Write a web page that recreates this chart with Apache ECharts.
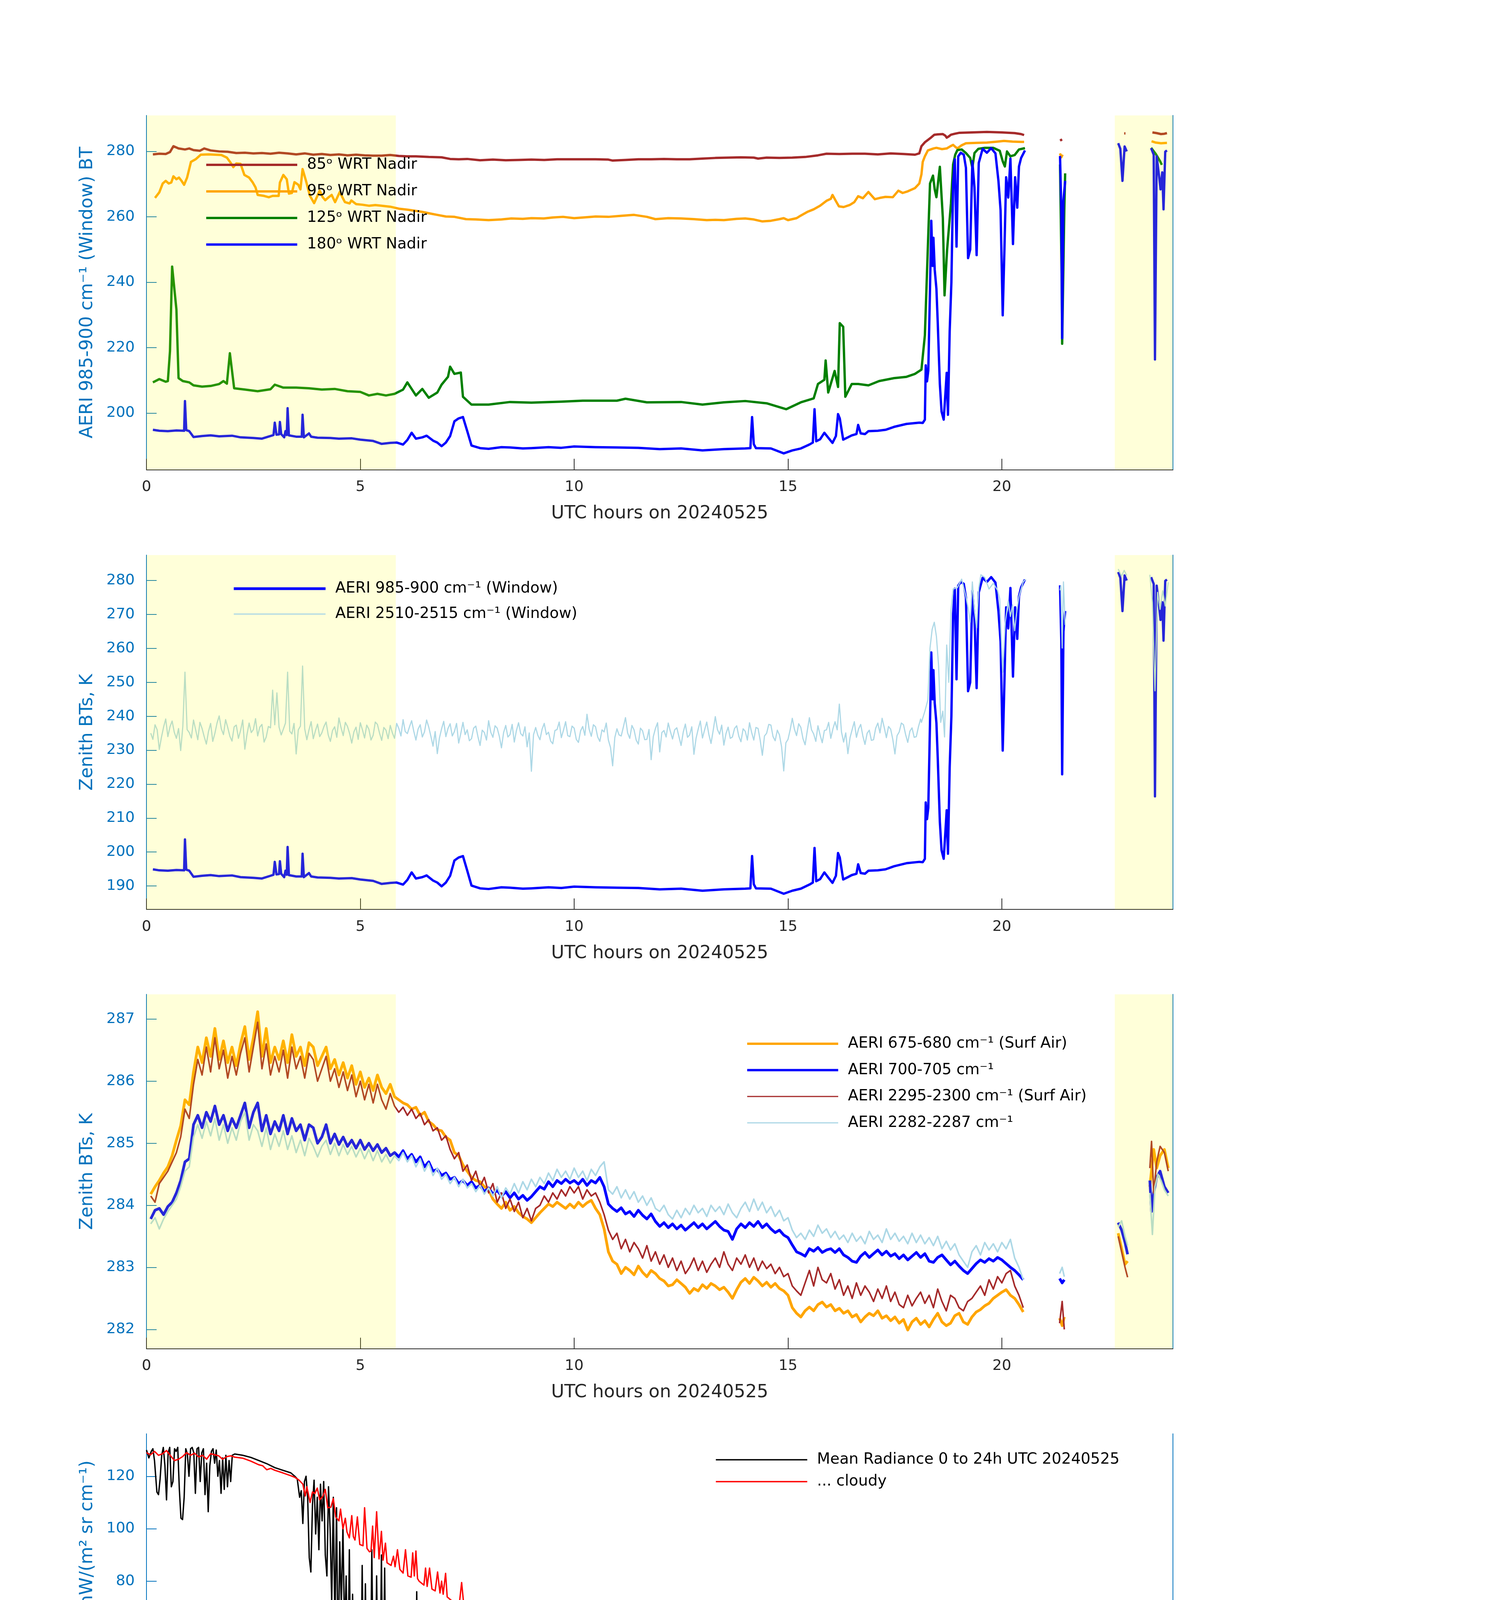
<!DOCTYPE html>
<html><head><meta charset="utf-8">
<script src="https://cdn.jsdelivr.net/npm/echarts@6/dist/echarts.min.js"></script>
<style>html,body{margin:0;padding:0;background:#fff}#c{width:3825px;height:6000px}</style>
</head><body><div id="c"></div>
<script>
// ---------------- Panel 1: BT vs view angle (UTC hours, K) ----------------
const bt85 = [[0.15,279.1],[0.3,279.3],[0.45,279.2],[0.55,279.8],[0.63,281.6],[0.75,280.9],[0.9,280.6],[1.0,280.9],[1.1,280.4],[1.25,280.2],[1.35,280.9],[1.5,280.3],[1.7,280.0],[1.9,279.9],[2.1,279.5],[2.3,279.6],[2.5,279.4],[2.7,279.5],[2.9,279.3],[3.1,279.6],[3.3,279.4],[3.5,279.1],[3.7,279.4],[3.9,279.0],[4.1,279.2],[4.3,278.9],[4.5,279.1],[4.7,278.8],[4.9,279.0],[5.1,278.8],[5.3,278.7],[5.5,278.7],[5.7,278.9],[5.9,278.6],[6.1,278.5],[6.3,278.5],[6.6,278.3],[6.9,278.2],[7.1,277.7],[7.3,277.6],[7.5,277.7],[7.8,277.3],[8.1,277.5],[8.4,277.3],[8.7,277.4],[9.0,277.5],[9.3,277.4],[9.6,277.6],[9.9,277.6],[10.2,277.6],[10.5,277.6],[10.8,277.5],[10.9,277.2],[11.2,277.4],[11.5,277.6],[11.8,277.6],[12.1,277.7],[12.4,277.6],[12.7,277.6],[13.0,277.8],[13.3,278.0],[13.6,278.1],[13.9,278.2],[14.2,278.1],[14.3,277.8],[14.5,278.1],[14.8,278.0],[15.1,278.1],[15.4,278.3],[15.7,278.8],[15.9,279.3],[16.2,279.2],[16.5,279.3],[16.8,279.3],[17.1,279.1],[17.4,279.4],[17.7,279.2],[17.97,279.0],[18.07,279.4],[18.12,281.6],[18.2,282.8],[18.27,283.5],[18.35,284.3],[18.42,285.1],[18.5,285.2],[18.62,285.3],[18.68,284.8],[18.71,284.2],[18.76,284.6],[18.81,285.1],[18.9,285.4],[19.01,285.7],[19.3,285.8],[19.65,285.95],[20.0,285.8],[20.3,285.6],[20.45,285.3],[20.52,285.0],[20.7,'-'],[21.37,283.8],[21.4,283.2],[21.6,'-'],[22.86,285.5],[22.89,285.5],[23.1,'-'],[23.52,285.8],[23.62,285.6],[23.72,285.3],[23.8,285.4],[23.86,285.6]];
const bt95 = [[0.2,265.8],[0.3,267.5],[0.38,270.2],[0.45,271.0],[0.52,270.2],[0.58,270.5],[0.63,272.4],[0.7,271.5],[0.76,272.0],[0.82,271.0],[0.88,269.8],[0.95,272.0],[1.04,276.8],[1.15,277.6],[1.27,279.0],[1.45,279.1],[1.6,279.0],[1.75,278.9],[1.88,278.1],[1.97,276.5],[2.03,275.2],[2.1,276.3],[2.2,276.2],[2.29,272.8],[2.4,272.0],[2.48,270.6],[2.55,269.0],[2.6,266.7],[2.75,266.4],[2.86,266.0],[2.95,266.4],[3.09,266.4],[3.12,270.5],[3.2,272.8],[3.28,271.5],[3.33,267.1],[3.4,267.3],[3.46,270.6],[3.55,269.8],[3.6,268.4],[3.65,274.6],[3.73,271.0],[3.82,266.5],[3.92,264.2],[4.05,268.0],[4.12,266.0],[4.18,265.1],[4.26,266.0],[4.33,266.7],[4.41,264.5],[4.52,267.6],[4.6,265.5],[4.64,264.5],[4.75,264.1],[4.79,265.0],[4.9,263.9],[5.05,263.7],[5.2,263.4],[5.35,263.6],[5.5,263.4],[5.7,263.1],[5.9,262.5],[6.1,262.2],[6.26,261.9],[6.45,261.5],[6.64,261.0],[6.8,260.6],[7.0,260.1],[7.2,260.0],[7.47,259.3],[7.7,259.2],[8.0,259.0],[8.3,259.2],[8.53,259.5],[8.8,259.4],[9.0,259.6],[9.29,259.5],[9.5,259.8],[9.74,260.0],[10.0,259.6],[10.3,259.9],[10.5,260.1],[10.8,260.0],[11.1,260.3],[11.4,260.6],[11.7,260.0],[11.9,259.3],[12.2,259.6],[12.5,259.5],[12.8,259.3],[13.1,259.0],[13.3,259.1],[13.5,259.0],[13.8,259.4],[14.0,259.5],[14.2,259.2],[14.4,258.6],[14.6,258.8],[14.8,259.3],[14.9,259.6],[15.0,259.0],[15.2,259.6],[15.3,260.4],[15.45,261.5],[15.6,262.3],[15.75,263.4],[15.9,264.9],[16.0,265.5],[16.04,266.7],[16.12,264.8],[16.19,263.2],[16.3,263.0],[16.44,263.6],[16.55,264.5],[16.64,266.3],[16.75,265.7],[16.88,267.6],[17.03,265.4],[17.15,265.8],[17.28,266.1],[17.45,266.0],[17.58,268.0],[17.68,267.3],[17.8,267.8],[17.97,268.8],[18.07,270.2],[18.12,273.0],[18.15,276.8],[18.2,278.5],[18.27,280.3],[18.4,280.9],[18.47,281.1],[18.6,280.7],[18.71,280.9],[18.8,281.6],[18.86,282.0],[18.92,281.3],[18.96,280.9],[19.05,281.8],[19.16,282.5],[19.4,282.6],[19.65,282.7],[19.9,283.0],[20.05,283.2],[20.25,283.0],[20.45,282.9],[20.52,282.9],[20.7,'-'],[21.36,279.4],[21.39,278.2],[21.42,279.0],[21.6,'-'],[23.5,283.1],[23.6,282.7],[23.72,282.5],[23.86,282.6]];
const bt125 = [[0.15,209.4],[0.3,210.4],[0.45,209.6],[0.5,209.8],[0.55,219.0],[0.6,244.8],[0.7,231.7],[0.75,210.7],[0.85,209.8],[1.0,209.4],[1.1,208.5],[1.3,208.1],[1.5,208.3],[1.7,208.9],[1.8,209.8],[1.88,209.0],[1.95,218.3],[2.05,207.6],[2.3,207.2],[2.6,206.7],[2.9,207.3],[3.0,208.7],[3.2,207.8],[3.5,207.8],[3.8,207.6],[4.1,207.2],[4.4,207.4],[4.7,206.7],[5.0,206.5],[5.2,205.4],[5.4,205.9],[5.6,205.4],[5.8,205.9],[6.0,207.2],[6.1,209.4],[6.3,205.4],[6.45,207.4],[6.6,204.7],[6.8,206.3],[6.9,208.7],[7.05,211.1],[7.1,214.2],[7.2,212.0],[7.35,212.4],[7.4,205.0],[7.6,202.6],[8.0,202.6],[8.5,203.4],[9.0,203.2],[9.7,203.5],[10.2,203.8],[11.0,203.8],[11.2,204.4],[11.7,203.3],[12.5,203.4],[13.0,202.6],[13.5,203.3],[14.0,203.7],[14.5,203.0],[14.96,201.2],[15.3,203.3],[15.6,204.5],[15.7,208.9],[15.85,210.2],[15.88,216.1],[15.94,206.3],[16.09,212.9],[16.17,208.0],[16.21,227.5],[16.29,226.4],[16.34,205.0],[16.49,208.9],[16.64,208.9],[16.88,208.5],[17.13,209.8],[17.48,210.7],[17.77,211.1],[17.97,212.0],[18.12,213.3],[18.2,223.8],[18.32,270.2],[18.39,272.6],[18.43,268.4],[18.47,266.0],[18.55,275.3],[18.62,259.7],[18.66,236.0],[18.72,250.0],[18.81,264.1],[18.86,276.0],[18.91,279.0],[18.96,280.4],[19.06,280.6],[19.16,279.5],[19.26,278.0],[19.31,275.0],[19.36,279.5],[19.45,280.8],[19.6,281.1],[19.8,281.1],[19.95,280.2],[20.02,277.0],[20.07,275.4],[20.12,280.0],[20.2,278.5],[20.3,278.9],[20.4,280.6],[20.54,281.0],[20.7,'-'],[21.36,276.0],[21.4,240.0],[21.41,221.2],[21.46,262.0],[21.48,273.3],[21.6,'-'],[23.49,281.1],[23.6,279.2],[23.7,277.0],[23.74,275.9]];
const btWin = [[0.15,194.9],[0.3,194.6],[0.5,194.5],[0.7,194.7],[0.88,194.6],[0.9,203.7],[0.93,194.8],[1.0,194.5],[1.1,192.7],[1.3,193.0],[1.5,193.2],[1.7,192.9],[2.0,193.1],[2.2,192.6],[2.5,192.4],[2.7,192.2],[2.9,193.0],[2.97,193.3],[3.0,197.1],[3.04,193.4],[3.1,193.5],[3.12,197.3],[3.15,193.6],[3.22,192.6],[3.25,194.5],[3.28,193.3],[3.3,201.5],[3.33,193.2],[3.5,192.8],[3.63,192.8],[3.65,199.5],[3.68,192.6],[3.8,193.8],[3.85,192.8],[4.0,192.5],[4.3,192.4],[4.5,192.2],[4.8,192.3],[5.0,191.9],[5.3,191.5],[5.5,190.6],[5.7,190.9],[5.85,191.0],[6.0,190.4],[6.1,191.8],[6.2,194.0],[6.3,192.2],[6.45,192.6],[6.55,193.1],[6.7,191.6],[6.8,191.0],[6.9,189.9],[7.0,191.0],[7.1,193.0],[7.2,197.5],[7.3,198.4],[7.4,198.8],[7.5,194.5],[7.6,190.1],[7.8,189.3],[8.0,189.1],[8.3,189.6],[8.5,189.5],[8.8,189.2],[9.0,189.3],[9.4,189.6],[9.7,189.4],[10.0,189.8],[10.5,189.6],[11.0,189.5],[11.5,189.4],[12.0,189.0],[12.5,189.2],[13.0,188.6],[13.5,189.0],[14.0,189.2],[14.12,189.3],[14.16,198.8],[14.2,190.5],[14.25,189.3],[14.6,189.2],[14.9,187.7],[15.1,188.6],[15.3,189.2],[15.5,190.4],[15.58,191.0],[15.62,201.2],[15.66,191.4],[15.75,192.0],[15.85,194.0],[15.94,192.5],[16.04,190.9],[16.12,193.0],[16.17,199.7],[16.21,198.4],[16.29,191.9],[16.4,192.6],[16.49,193.2],[16.6,193.6],[16.64,196.4],[16.7,193.8],[16.8,193.6],[16.88,194.5],[17.1,194.6],[17.28,194.9],[17.48,195.8],[17.77,196.7],[18.07,197.1],[18.15,197.0],[18.2,198.0],[18.22,214.6],[18.25,209.7],[18.28,213.0],[18.32,238.0],[18.35,258.8],[18.38,245.0],[18.4,253.6],[18.43,243.9],[18.47,238.0],[18.5,228.0],[18.55,208.9],[18.59,200.5],[18.64,198.0],[18.68,206.0],[18.71,212.3],[18.74,199.5],[18.78,225.0],[18.82,240.0],[18.86,270.2],[18.9,277.6],[18.94,250.9],[18.98,278.5],[19.04,279.6],[19.11,279.0],[19.16,275.0],[19.21,247.4],[19.26,250.0],[19.31,277.0],[19.36,269.0],[19.41,248.3],[19.46,276.5],[19.55,280.8],[19.65,279.6],[19.75,281.0],[19.85,279.4],[19.92,271.0],[19.97,262.0],[20.02,229.9],[20.06,250.0],[20.1,272.1],[20.15,265.9],[20.2,277.8],[20.26,251.7],[20.31,272.1],[20.36,262.8],[20.4,275.4],[20.45,278.0],[20.54,280.3],[20.7,'-'],[21.36,278.6],[21.39,262.0],[21.41,222.9],[21.44,265.0],[21.48,271.0],[21.6,'-'],[22.72,282.5],[22.77,280.8],[22.82,271.0],[22.87,281.5],[22.92,280.0],[23.1,'-'],[23.49,281.0],[23.55,279.0],[23.58,216.4],[23.62,278.5],[23.68,272.0],[23.71,268.4],[23.75,273.6],[23.78,262.3],[23.82,279.9],[23.86,280.3]];

// ---------------- Panel 2: light-blue 2510-2515 window (0.05 h samples) ----------------
const lb2Start = 0.1, lb2Step = 0.05;
const lb2Vals = [235.0,233.2,237.5,236.0,230.2,233.8,236.8,239.2,234.0,236.9,238.6,235.3,233.5,236.4,229.9,237.0,253.0,236.1,235.2,233.6,
238.9,236.0,233.1,238.2,236.4,234.0,231.8,235.5,237.9,232.6,235.0,238.0,240.1,236.3,234.6,239.0,236.7,234.1,232.7,236.9,
237.4,233.5,235.8,238.9,230.3,234.6,238.0,235.2,236.1,239.3,234.2,236.8,237.6,232.4,233.9,237.0,236.6,247.7,237.5,246.9,
236.8,234.5,236.2,238.0,253.0,235.6,234.8,237.9,228.9,236.0,237.1,254.8,236.3,233.1,236.0,238.4,233.4,235.7,237.7,234.0,
235.1,237.0,238.3,234.5,232.6,235.8,236.9,233.8,239.5,236.6,234.3,238.2,237.0,234.9,232.1,235.4,236.8,233.2,238.1,236.0,
233.6,237.4,236.2,233.0,234.4,238.3,237.6,235.0,232.9,236.7,235.9,233.4,237.3,235.1,233.5,237.9,236.4,234.2,239.0,235.5,
234.9,236.9,238.7,235.6,233.0,236.2,237.5,233.9,235.4,238.9,236.8,234.1,231.2,235.5,229.0,233.6,236.3,238.5,234.0,236.4,
237.8,234.2,235.5,237.9,232.1,235.0,238.2,234.6,236.0,232.8,233.4,236.5,237.1,234.0,231.4,235.9,235.2,233.0,238.7,235.3,
233.8,237.2,236.5,234.1,230.7,235.2,237.3,233.9,234.6,237.6,232.4,235.8,238.1,234.9,234.2,236.9,231.0,235.1,223.8,234.6,
236.7,234.4,233.1,236.2,237.9,234.6,235.3,232.7,231.9,235.8,236.1,238.3,233.7,235.9,238.4,234.3,234.0,237.1,236.5,233.2,
232.3,235.7,237.0,234.4,240.6,236.2,234.1,237.5,236.9,233.9,232.6,236.0,235.4,238.0,233.0,230.8,225.4,233.7,236.3,234.5,
234.2,236.8,239.6,235.1,233.5,237.3,236.0,233.0,231.8,236.5,235.7,233.1,233.2,236.1,227.2,234.0,236.4,238.1,229.5,235.2,
235.8,233.9,238.0,235.5,233.3,236.0,236.6,234.0,231.4,235.3,237.7,233.8,234.5,236.9,228.8,233.5,236.2,238.6,233.6,236.0,
238.3,234.6,232.0,235.8,239.9,236.1,234.7,237.4,231.5,234.9,236.8,233.5,233.9,236.4,237.2,234.1,232.5,236.3,235.6,233.0,
238.1,235.2,233.0,236.7,236.4,232.9,228.5,234.2,235.0,237.6,237.4,234.0,232.8,235.9,234.5,231.0,223.9,232.2,233.2,236.0,
239.4,236.2,234.3,237.8,236.7,233.4,231.6,235.7,239.6,236.0,234.8,232.6,237.2,234.5,232.2,235.8,236.0,238.2,233.5,236.3,
238.4,236.0,243.6,235.4,232.4,235.1,229.0,233.7,236.1,238.4,233.8,236.3,237.6,234.2,231.7,235.0,235.9,232.9,233.1,236.5,
238.0,235.1,239.4,236.7,233.7,237.0,236.2,233.2,228.9,234.3,235.4,238.0,237.5,234.6,232.3,235.6,236.6,233.8,234.0,236.9,
239.2];
const lb2Late = [[18.12,238.2],[18.2,241.5],[18.27,244.8],[18.32,260.1],[18.37,265.6],[18.42,267.7],[18.47,263.5],[18.52,255.0],[18.57,238.2],[18.62,241.5],[18.66,233.9],[18.71,261.0],[18.76,250.0],[18.81,271.1],[18.86,277.5],[18.96,277.9],[19.06,280.4],[19.16,275.3],[19.21,272.0],[19.26,267.7],[19.31,279.6],[19.36,271.1],[19.41,266.0],[19.46,277.9],[19.51,281.7],[19.6,280.9],[19.7,277.5],[19.8,279.2],[19.9,277.1],[19.95,274.6],[20.02,253.0],[20.08,267.7],[20.15,274.0],[20.2,269.4],[20.25,272.8],[20.3,265.2],[20.35,271.1],[20.4,275.3],[20.5,279.6],[20.56,280.4],[20.7,'-'],[21.36,277.1],[21.38,278.5],[21.41,260.1],[21.44,279.6],[21.48,266.9],[21.6,'-'],[22.72,283.4],[22.8,281.3],[22.86,283.0],[22.92,281.5],[23.1,'-'],[23.46,281.7],[23.52,273.5],[23.58,247.5],[23.64,276.5],[23.7,271.5],[23.76,277.0],[23.82,272.5],[23.89,279.5]];

// ---------------- Panel 3: four channels (0.1 h samples from 0.1 to 20.5) ----------------
const p3Start = 0.1, p3Step = 0.1;
const o3 = [284.18,284.30,284.40,284.52,284.62,284.80,285.05,285.28,285.70,285.62,
286.15,286.55,286.30,286.70,286.40,286.85,286.35,286.65,286.30,286.55,
286.25,286.60,286.88,286.35,286.70,287.12,286.40,286.85,286.30,286.55,
286.35,286.65,286.30,286.75,286.40,286.55,286.25,286.62,286.55,286.25,
286.40,286.55,286.20,286.35,286.10,286.30,286.05,286.25,285.95,286.15,
285.90,286.05,285.85,286.10,285.90,285.80,285.95,285.75,285.70,285.65,
285.62,285.55,285.58,285.45,285.50,285.35,285.30,285.22,285.20,285.10,
285.05,284.85,284.80,284.65,284.55,284.45,284.40,284.38,284.30,284.25,
284.10,284.02,283.95,284.05,283.92,283.98,283.88,283.82,283.78,283.72,
283.80,283.88,283.95,284.02,283.98,284.05,284.00,283.95,284.02,283.96,
284.05,283.98,284.04,284.08,283.95,283.85,283.62,283.25,283.10,283.05,
282.90,283.00,282.95,282.88,283.02,282.92,282.85,282.95,282.90,282.82,
282.78,282.70,282.72,282.80,282.74,282.68,282.58,282.66,282.62,282.72,
282.66,282.74,282.70,282.64,282.68,282.60,282.50,282.64,282.76,282.82,
282.74,282.84,282.78,282.70,282.76,282.68,282.74,282.66,282.62,282.55,
282.35,282.26,282.20,282.30,282.36,282.30,282.40,282.44,282.36,282.40,
282.30,282.34,282.26,282.30,282.20,282.24,282.12,282.20,282.26,282.22,
282.30,282.18,282.22,282.14,282.20,282.10,282.16,281.99,282.12,282.18,
282.08,282.14,282.04,282.16,282.26,282.12,282.06,282.10,282.22,282.26,
282.12,282.08,282.20,282.28,282.32,282.38,282.42,282.50,282.55,282.60,
282.64,282.55,282.50,282.40,282.28];
const o3Late = [[20.7,'-'],[21.35,282.18],[21.41,282.06],[21.46,282.2],[21.6,'-'],[22.72,283.55],[22.8,283.3],[22.88,283.05],[22.94,283.1],[23.1,'-'],[23.46,284.3],[23.55,284.9],[23.62,284.6],[23.7,284.8],[23.8,284.9],[23.89,284.6]];
const u3 = [283.78,283.92,283.95,283.85,283.98,284.05,284.20,284.40,284.70,284.75,
285.30,285.45,285.25,285.50,285.35,285.60,285.30,285.45,285.20,285.40,
285.25,285.45,285.65,285.25,285.50,285.65,285.20,285.45,285.15,285.35,
285.20,285.45,285.15,285.40,285.20,285.30,285.05,285.30,285.25,285.00,
285.10,285.30,285.00,285.15,284.98,285.10,284.95,285.05,284.92,285.05,
284.90,285.00,284.88,284.98,284.85,284.92,284.80,284.85,284.78,284.88,
284.75,284.82,284.70,284.78,284.62,284.70,284.55,284.58,284.48,284.52,
284.42,284.45,284.35,284.40,284.32,284.38,284.28,284.32,284.22,284.28,
284.18,284.24,284.15,284.22,284.12,284.20,284.10,284.16,284.08,284.14,
284.22,284.30,284.26,284.38,284.30,284.40,284.35,284.42,284.36,284.40,
284.34,284.42,284.32,284.40,284.36,284.45,284.30,284.02,283.95,283.90,
283.96,283.86,283.90,283.82,283.92,283.84,283.78,283.86,283.74,283.66,
283.72,283.64,283.70,283.62,283.68,283.60,283.66,283.72,283.64,283.70,
283.62,283.68,283.74,283.66,283.60,283.58,283.45,283.62,283.70,283.64,
283.72,283.66,283.74,283.64,283.70,283.62,283.56,283.60,283.52,283.48,
283.36,283.25,283.22,283.18,283.30,283.26,283.32,283.24,283.28,283.30,
283.24,283.30,283.20,283.16,283.10,283.08,283.18,283.24,283.16,283.22,
283.28,283.20,283.26,283.18,283.22,283.14,283.20,283.12,283.18,283.24,
283.16,283.22,283.10,283.08,283.16,283.20,283.12,283.04,283.10,283.02,
282.95,282.90,282.98,283.06,283.12,283.08,283.14,283.10,283.16,283.12,
283.06,283.00,282.95,282.88,282.80];
const u3Late = [[20.7,'-'],[21.35,282.82],[21.41,282.75],[21.46,282.8],[21.6,'-'],[22.72,283.72],[22.8,283.6],[22.88,283.4],[22.94,283.21],[23.1,'-'],[23.46,284.4],[23.5,283.9],[23.55,284.2],[23.62,284.45],[23.7,284.55],[23.8,284.3],[23.89,284.2]];
const b3 = [284.15,284.05,284.35,284.45,284.55,284.70,284.85,285.10,285.55,285.40,
285.95,286.35,286.10,286.55,286.15,286.70,286.20,286.50,286.05,286.40,
286.10,286.45,286.70,286.15,286.55,286.95,286.20,286.60,286.10,286.40,
286.15,286.50,286.05,286.55,286.20,286.40,286.05,286.45,286.35,286.00,
286.20,286.40,286.00,286.20,285.90,286.15,285.85,286.10,285.75,286.00,
285.70,285.95,285.65,285.95,285.70,285.55,285.80,285.60,285.50,285.58,
285.45,285.55,285.40,285.48,285.30,285.38,285.20,285.25,285.05,285.12,
284.90,284.75,284.85,284.55,284.65,284.40,284.55,284.30,284.45,284.20,
284.35,284.05,284.20,283.95,284.10,283.90,284.05,283.80,283.95,283.75,
283.95,284.00,284.15,284.05,284.20,284.10,284.25,284.15,284.30,284.20,
284.30,284.10,284.25,284.15,284.20,284.05,283.85,283.60,283.45,283.55,
283.30,283.45,283.25,283.40,283.30,283.15,283.35,283.10,283.25,283.05,
283.20,283.00,283.15,282.95,283.10,282.90,283.00,283.15,282.95,283.10,
282.92,283.05,283.15,283.00,283.25,283.05,282.95,283.15,283.05,283.20,
283.00,283.15,282.95,283.10,282.98,283.05,282.90,283.00,282.85,282.90,
282.70,282.62,282.55,282.75,282.95,282.70,283.00,282.80,282.75,282.90,
282.65,282.80,282.55,282.70,282.50,282.75,282.55,282.70,282.60,282.45,
282.65,282.50,282.70,282.45,282.60,282.40,282.35,282.55,282.38,282.50,
282.60,282.42,282.55,282.35,282.65,282.45,282.30,282.55,282.50,282.35,
282.30,282.45,282.50,282.60,282.70,282.55,282.80,282.65,282.85,282.75,
282.90,282.95,282.70,282.55,282.35];
const b3Late = [[20.7,'-'],[21.35,282.1],[21.41,282.45],[21.46,282.0],[21.6,'-'],[22.72,283.5],[22.8,283.25],[22.88,283.0],[22.94,282.84],[23.1,'-'],[23.46,284.6],[23.5,285.03],[23.55,284.2],[23.62,284.7],[23.7,284.95],[23.8,284.85],[23.89,284.55]];
const l3 = [283.70,283.80,283.62,283.78,283.90,284.00,284.10,284.30,284.55,284.62,
285.10,285.30,285.08,285.35,285.12,285.40,285.05,285.30,285.00,285.25,
285.05,285.35,285.50,285.05,285.30,285.20,284.95,285.25,284.90,285.15,
284.95,285.20,284.90,285.12,284.85,285.05,284.80,285.08,284.95,284.78,
284.95,285.05,284.82,285.00,284.80,284.98,284.82,284.95,284.78,284.92,
284.75,284.90,284.72,284.88,284.70,284.82,284.68,284.80,284.72,284.85,
284.70,284.80,284.62,284.75,284.55,284.68,284.48,284.60,284.42,284.50,
284.35,284.45,284.30,284.42,284.28,284.35,284.22,284.32,284.18,284.28,
284.15,284.30,284.12,284.28,284.18,284.35,284.20,284.38,284.25,284.42,
284.30,284.45,284.35,284.52,284.40,284.58,284.45,284.55,284.42,284.60,
284.45,284.55,284.40,284.58,284.48,284.62,284.70,284.25,284.18,284.30,
284.12,284.25,284.10,284.22,284.05,284.15,284.00,284.12,283.95,283.90,
284.00,283.85,283.78,283.92,283.80,283.95,283.85,284.00,283.88,283.95,
283.82,284.00,283.90,283.98,283.85,284.02,283.88,283.80,283.95,284.05,
283.90,284.10,283.92,284.05,283.88,283.98,283.82,283.92,283.75,283.80,
283.60,283.48,283.55,283.45,283.60,283.50,283.68,283.55,283.62,283.48,
283.58,283.45,283.52,283.40,283.55,283.42,283.50,283.38,283.58,283.45,
283.52,283.40,283.62,283.45,283.55,283.42,283.50,283.38,283.55,283.40,
283.52,283.38,283.48,283.35,283.50,283.30,283.42,283.28,283.38,283.20,
283.10,283.00,283.25,283.35,283.20,283.40,283.28,283.38,283.25,283.40,
283.30,283.45,283.15,283.00,282.80];
const l3Late = [[20.7,'-'],[21.35,282.9],[21.41,283.0],[21.46,282.85],[21.6,'-'],[22.72,283.65],[22.8,283.75],[22.88,283.5],[22.94,283.35],[23.1,'-'],[23.46,284.2],[23.52,283.53],[23.58,284.3],[23.65,284.5],[23.72,284.4],[23.8,284.25],[23.89,284.15]];

// ---------------- Panel 4: mean radiance 520-1800 cm-1 ----------------
const rad4All = [[520,130.0],[523,127.0],[526,129.5],[528,130.5],[530,126.0],[533,114.0],[535,113.0],[537,119.0],[539,128.0],[541,131.0],[543,124.0],[545,111.0],[547,129.0],[549,131.0],[551,116.0],[553,118.0],[555,130.5],[557,129.5],[559,131.0],[561,115.0],[563,104.0],[565,103.5],[567,112.0],[569,130.5],[571,128.5],[573,120.0],[575,130.5],[577,131.0],[579,129.0],[581,113.5],[583,130.5],[585,131.0],[587,118.0],[589,129.0],[591,130.5],[593,113.0],[595,125.0],[597,106.5],[599,124.0],[601,129.5],[603,130.5],[605,125.0],[607,130.0],[609,120.0],[611,126.0],[613,113.5],[615,127.0],[617,115.0],[619,128.0],[621,116.0],[623,126.0],[625,118.0],[627,128.0],[630,128.5],[640,128.0],[650,127.2],[660,126.0],[670,124.8],[680,123.3],[690,122.3],[700,121.3],[705,120.0],[708,119.0],[711,112.0],[713,114.5],[715,102.0],[717,118.0],[719,120.0],[721,112.0],[723,89.0],[725,83.5],[727,109.0],[729,118.5],[731,98.0],[733,112.0],[735,92.0],[737,117.0],[739,103.0],[741,118.0],[743,90.0],[745,82.0],[747,116.0],[749,100.0],[751,72.0],[753,112.0],[755,62.0],[757,108.0],[759,46.0],[761,95.0],[763,70.0],[765,101.0],[767,60.0],[769,82.0],[771,40.0],[773,92.0],[775,34.5],[777,75.0],[779,44.0],[781,33.0],[783,72.0],[785,40.0],[787,30.5],[789,86.0],[791,33.0],[793,79.0],[795,31.5],[797,44.0],[799,30.0],[801,92.0],[803,36.0],[805,34.0],[807,82.0],[809,33.0],[811,30.0],[813,90.0],[815,29.0],[817,85.0],[819,28.0],[821,41.0],[823,27.0],[825,70.0],[827,26.5],[829,30.0],[831,26.0],[833,63.0],[835,25.8],[837,28.0],[839,25.5],[841,24.5],[843,60.5],[845,25.0],[847,24.0],[849,29.0],[851,23.5],[853,66.0],[855,24.0],[857,76.0],[859,22.5],[861,63.0],[863,22.0],[865,21.5],[867,30.0],[869,21.0],[871,22.0],[873,49.0],[875,21.0],[877,52.0],[879,20.5],[881,47.0],[883,20.0],[885,36.0],[887,20.0],[889,59.0],[891,19.5],[893,32.0],[895,19.2],[897,20.0],[900,19.4],[903,22.0],[905,18.5],[907,51.0],[909,19.0],[911,22.0],[913,18.0],[915,40.0],[917,19.5],[919,32.0],[921,17.5],[925,18.5],[928,17.0],[932,21.0],[935,18.5],[938,16.5],[941,42.0],[943,17.0],[946,20.0],[949,16.0],[952,27.0],[955,15.5],[958,16.0],[961,29.0],[963,14.5],[966,18.0],[970,14.0],[975,15.0],[980,13.5],[985,14.0],[990,13.2],[995,14.5],[1000,14.1],[1004,15.0],[1008,19.5],[1012,17.0],[1014,43.0],[1016,20.0],[1018,34.0],[1020,21.0],[1025,22.0],[1030,21.0],[1034,33.0],[1036,22.0],[1040,23.0],[1043,14.0],[1046,25.0],[1050,30.5],[1053,27.0],[1056,31.0],[1058,26.0],[1061,28.0],[1064,16.0],[1066,9.5],[1068,48.0],[1070,8.0],[1072,33.0],[1074,9.0],[1076,12.0],[1078,8.0],[1082,10.0],[1085,8.5],[1087,37.0],[1089,9.0],[1092,10.5],[1095,8.5],[1097,26.0],[1099,33.0],[1101,9.0],[1104,40.0],[1106,8.5],[1108,38.0],[1110,9.0],[1113,10.0],[1116,8.5],[1118,52.5],[1120,9.0],[1124,8.5],[1128,9.0],[1131,25.0],[1133,45.0],[1135,10.0],[1138,8.5],[1141,9.5],[1145,9.0],[1147,42.0],[1149,10.0],[1151,36.0],[1153,8.5],[1157,9.0],[1160,10.0],[1163,9.0],[1165,40.0],[1167,9.5],[1170,12.0],[1172,20.0],[1174,49.5],[1176,9.0],[1179,13.0],[1181,9.0],[1184,20.0],[1187,50.5],[1189,10.0],[1192,14.0],[1194,9.0],[1198,37.0],[1200,11.0],[1203,9.0],[1206,8.5],[1209,16.0],[1212,44.5],[1214,12.0],[1216,7.5],[1219,14.0],[1222,40.0],[1224,17.0],[1226,38.0],[1228,46.5],[1230,15.0],[1232,10.0],[1234,7.5],[1236,20.0],[1238,13.0],[1240,7.5],[1243,35.0],[1245,42.5],[1247,28.0],[1249,14.0],[1251,35.0],[1253,28.0],[1255,33.0],[1257,17.0],[1259,40.0],[1261,34.0],[1263,44.5],[1265,30.0],[1267,38.0],[1269,44.0],[1271,42.0],[1273,28.5],[1275,45.0],[1277,42.0],[1279,32.0],[1281,22.5],[1283,26.0],[1285,21.0],[1287,36.0],[1289,30.0],[1291,38.0],[1293,26.5],[1295,35.0],[1297,22.0],[1299,36.0],[1301,34.5],[1303,30.0],[1305,28.0],[1307,37.5],[1309,35.0],[1311,28.5],[1313,36.5],[1315,37.0],[1317,31.0],[1319,36.5],[1321,35.5],[1323,36.0],[1325,34.0],[1327,30.0],[1329,23.0],[1331,33.0],[1333,23.5],[1335,34.0],[1338,32.5],[1341,33.5],[1345,32.0],[1350,31.5],[1360,30.8],[1370,30.0],[1380,29.5],[1390,28.8],[1400,27.9],[1410,27.2],[1420,26.5],[1430,25.8],[1438,25.3],[1440,28.0],[1442,25.0],[1450,24.4],[1460,23.7],[1470,22.9],[1480,22.2],[1490,21.4],[1500,20.8],[1510,20.1],[1520,19.5],[1525,21.0],[1530,18.9],[1539,18.4],[1541,26.2],[1543,18.1],[1550,17.6],[1558,17.0],[1560,19.0],[1562,16.9],[1570,16.5],[1578,16.0],[1579,22.5],[1581,15.9],[1590,15.6],[1600,15.4],[1610,14.8],[1620,14.3],[1630,13.8],[1640,13.3],[1650,12.8],[1655,13.5],[1660,12.5],[1670,11.9],[1680,11.4],[1690,11.0],[1700,10.7],[1702,9.0],[1704,10.6],[1710,10.3],[1719,10.0],[1720,15.3],[1722,9.9],[1735,9.4],[1750,9.0],[1765,8.6],[1778,8.1],[1780,6.5],[1782,8.0],[1790,7.8],[1800,7.6]];
const rad4Cld = [[520,129.0],[525,128.2],[530,129.5],[535,128.0],[540,128.6],[545,129.8],[550,127.8],[555,126.0],[560,126.5],[565,127.5],[570,129.0],[575,128.0],[580,128.8],[585,127.4],[590,128.0],[595,126.5],[600,128.6],[605,128.2],[610,127.8],[615,126.5],[620,127.5],[625,127.8],[630,127.3],[640,126.9],[650,125.8],[660,124.4],[665,124.0],[670,122.5],[675,123.0],[680,122.3],[690,121.3],[700,120.2],[705,119.6],[710,118.6],[715,117.0],[718,112.5],[720,116.0],[724,110.0],[727,114.0],[730,113.4],[733,115.5],[736,111.0],[740,112.4],[743,115.0],[746,108.0],[750,108.2],[753,111.5],[756,104.5],[760,103.0],[762,107.5],[765,100.0],[768,104.0],[770,98.8],[773,96.5],[776,105.0],[778,97.0],[780,95.7],[783,104.5],[786,94.0],[790,93.5],[792,108.0],[795,92.5],[798,91.2],[800,91.5],[802,101.0],[804,89.0],[807,106.5],[810,88.5],[813,99.0],[815,88.0],[818,94.5],[820,87.0],[825,86.0],[828,89.5],[830,85.5],[833,92.0],[836,84.5],[840,83.1],[843,92.0],[846,82.0],[850,81.5],[852,90.8],[854,82.0],[856,91.5],[858,81.0],[860,80.0],[866,78.5],[868,85.0],[870,78.0],[873,85.0],[876,77.0],[880,76.3],[883,83.5],[886,75.5],[888,80.0],[890,75.0],[893,83.0],[895,74.0],[900,72.7],[910,71.0],[913,79.5],[916,70.0],[920,69.0],[925,71.0],[930,67.5],[935,66.8],[940,65.9],[945,66.0],[950,64.5],[955,72.0],[958,64.0],[960,63.3],[970,61.5],[975,62.5],[980,60.1],[990,58.5],[1000,57.5],[1005,58.0],[1010,56.8],[1013,64.0],[1016,57.0],[1019,62.5],[1022,56.0],[1030,55.2],[1033,59.0],[1036,55.0],[1040,53.9],[1045,54.5],[1050,52.8],[1055,53.5],[1060,51.8],[1066,50.5],[1068,61.0],[1071,49.0],[1075,48.5],[1078,54.0],[1081,48.0],[1085,47.8],[1088,53.9],[1091,46.8],[1095,46.5],[1098,51.5],[1100,45.5],[1103,50.5],[1106,45.0],[1110,44.2],[1114,52.5],[1117,43.7],[1120,43.4],[1130,42.5],[1133,54.0],[1136,42.0],[1140,41.8],[1144,50.0],[1147,41.2],[1150,48.0],[1153,40.5],[1160,39.6],[1164,48.5],[1167,39.0],[1170,38.8],[1173,49.8],[1176,38.5],[1180,38.2],[1184,44.5],[1187,37.6],[1190,37.2],[1195,48.5],[1198,36.8],[1200,36.1],[1205,35.8],[1208,40.0],[1212,35.0],[1215,46.0],[1218,34.5],[1222,44.0],[1225,34.0],[1228,47.5],[1232,33.5],[1236,36.5],[1240,32.0],[1244,38.0],[1248,32.5],[1252,41.5],[1256,32.8],[1260,38.0],[1265,34.0],[1270,36.5],[1275,37.5],[1280,33.0],[1285,36.0],[1290,34.0],[1295,35.5],[1300,33.5],[1305,32.5],[1310,34.8],[1315,35.0],[1320,34.5],[1325,33.8],[1330,31.5],[1335,33.0],[1340,31.4],[1350,31.0],[1360,30.3],[1370,29.8],[1380,29.3],[1390,28.6],[1400,27.4],[1410,26.8],[1420,26.0],[1430,25.3],[1440,24.6],[1450,23.9],[1460,23.2],[1470,22.4],[1480,21.7],[1490,20.9],[1500,20.3],[1510,19.7],[1520,19.0],[1530,18.4],[1539,17.9],[1541,25.5],[1543,17.5],[1550,17.2],[1560,16.7],[1570,16.2],[1577,15.8],[1578,21.0],[1580,15.7],[1590,15.4],[1600,15.1],[1610,14.6],[1620,14.1],[1630,13.6],[1640,13.1],[1650,12.6],[1653,12.3],[1655,18.3],[1657,12.2],[1665,12.0],[1675,11.4],[1685,11.0],[1695,10.6],[1697,17.0],[1699,10.5],[1710,10.2],[1719,9.8],[1720,13.5],[1722,9.7],[1735,9.2],[1750,8.9],[1765,8.4],[1780,7.9],[1790,7.6],[1800,7.4]];

// ---------------- Panel 5: mean radiance 1800-3020 cm-1 ----------------
const rad5All = [[1800,7.55],[1802,7.35],[1804,7.62],[1806,7.45],[1808,7.58],[1810,7.40],[1812,7.55],[1815,7.49],[1817,7.20],[1819,7.38],[1821,7.10],[1823,7.25],[1825,7.23],[1828,7.05],[1830,7.07],[1833,6.95],[1836,6.97],[1840,6.91],[1843,6.82],[1846,6.86],[1850,6.65],[1853,6.58],[1856,6.52],[1858,6.40],[1860,6.33],[1862,5.88],[1864,6.25],[1866,6.22],[1868,6.10],[1870,6.14],[1873,6.05],[1876,6.08],[1879,5.98],[1882,6.00],[1885,5.94],[1887,5.75],[1889,5.43],[1891,5.04],[1893,5.69],[1895,4.91],[1897,5.25],[1899,5.75],[1901,5.56],[1903,5.62],[1905,5.56],[1908,5.50],[1911,5.49],[1913,5.10],[1915,4.91],[1917,4.14],[1919,4.60],[1921,5.10],[1923,5.27],[1926,5.20],[1929,5.27],[1932,5.15],[1935,5.17],[1938,5.05],[1941,5.04],[1944,5.10],[1947,5.01],[1950,4.98],[1952,4.33],[1954,4.00],[1956,3.43],[1958,3.24],[1960,3.30],[1962,4.85],[1964,3.80],[1966,3.24],[1968,3.90],[1970,4.65],[1972,4.69],[1975,4.65],[1978,4.60],[1980,4.65],[1982,3.49],[1984,3.04],[1986,2.53],[1988,2.90],[1990,4.46],[1992,3.60],[1994,2.72],[1996,2.60],[1998,4.33],[2000,3.90],[2002,2.80],[2004,4.27],[2006,2.85],[2008,4.30],[2010,2.33],[2012,1.75],[2014,1.62],[2016,2.40],[2018,3.36],[2020,1.37],[2022,2.85],[2024,1.88],[2026,3.94],[2028,3.40],[2030,1.30],[2032,1.24],[2034,3.62],[2036,3.20],[2038,1.43],[2040,1.11],[2042,1.90],[2044,3.56],[2046,1.30],[2048,1.11],[2050,2.08],[2052,3.30],[2054,1.40],[2056,1.24],[2058,3.55],[2060,2.20],[2062,1.43],[2064,3.50],[2066,1.00],[2068,3.40],[2070,2.85],[2072,0.85],[2074,0.75],[2076,2.40],[2078,3.30],[2080,1.24],[2082,0.80],[2084,1.88],[2086,2.85],[2088,0.85],[2090,0.79],[2092,3.00],[2094,2.20],[2096,1.10],[2098,2.95],[2100,1.24],[2102,0.92],[2104,2.60],[2106,1.40],[2108,0.72],[2110,1.10],[2112,2.20],[2114,0.79],[2116,2.60],[2118,0.66],[2120,1.00],[2122,2.40],[2124,0.66],[2126,0.59],[2128,1.50],[2130,0.53],[2132,2.20],[2134,0.46],[2136,0.90],[2138,0.50],[2140,1.62],[2142,0.40],[2144,0.60],[2146,1.20],[2148,0.46],[2150,0.35],[2152,0.60],[2154,1.50],[2156,0.30],[2158,0.45],[2160,1.10],[2162,0.40],[2164,0.35],[2166,1.00],[2168,0.45],[2170,0.40],[2172,1.60],[2174,0.30],[2176,0.55],[2178,1.20],[2180,0.35],[2182,0.60],[2184,0.40],[2186,1.10],[2188,0.50],[2190,0.60],[2192,0.95],[2194,0.55],[2196,1.15],[2198,0.85],[2200,1.30],[2202,0.75],[2204,1.35],[2206,1.00],[2208,1.40],[2210,1.20],[2212,1.35],[2214,1.15],[2216,1.30],[2218,1.25],[2220,1.05],[2222,0.88],[2224,1.10],[2226,1.30],[2228,1.37],[2230,1.45],[2234,1.53],[2240,1.52],[2250,1.48],[2260,1.43],[2270,1.38],[2280,1.33],[2290,1.28],[2300,1.22],[2310,1.18],[2320,1.13],[2330,1.08],[2340,1.04],[2350,1.01],[2360,0.98],[2370,0.95],[2380,0.93],[2385,0.92],[2388,0.88],[2391,0.72],[2394,0.52],[2397,0.42],[2400,0.36],[2405,0.32],[2410,0.30],[2420,0.27],[2435,0.23],[2450,0.19],[2475,0.15],[2500,0.11],[2525,0.10],[2550,0.08],[2575,0.08],[2600,0.08],[2615,0.07],[2620,0.10],[2625,0.07],[2640,0.08],[2645,0.13],[2650,0.07],[2660,0.10],[2670,0.06],[2680,0.09],[2700,0.05],[2720,0.06],[2722,0.10],[2725,0.05],[2750,0.05],[2800,0.04],[2850,0.04],[2900,0.03],[2950,0.03],[3000,0.03],[3020,0.04]];
const rad5Cld = [[1800,7.55],[1802,7.15],[1804,7.30],[1806,7.45],[1808,7.20],[1810,7.35],[1812,7.05],[1814,6.85],[1816,7.30],[1818,7.00],[1820,7.18],[1822,6.95],[1825,7.10],[1828,6.90],[1830,7.00],[1833,6.80],[1835,6.70],[1837,6.50],[1839,6.72],[1841,6.60],[1843,6.55],[1845,6.30],[1847,6.65],[1849,6.50],[1851,6.20],[1853,6.55],[1855,6.40],[1857,6.15],[1859,6.25],[1861,6.05],[1863,6.20],[1866,6.10],[1869,6.00],[1872,6.05],[1875,5.90],[1877,5.75],[1879,5.65],[1881,5.80],[1884,5.75],[1887,5.45],[1889,5.60],[1891,5.40],[1893,5.55],[1896,5.52],[1899,5.45],[1901,5.30],[1903,5.10],[1905,5.15],[1907,4.80],[1909,5.00],[1911,5.20],[1913,5.00],[1915,5.10],[1917,4.90],[1919,5.05],[1921,5.00],[1923,4.85],[1925,5.00],[1927,4.75],[1929,4.90],[1931,4.60],[1933,4.40],[1935,4.20],[1937,4.15],[1939,4.65],[1941,4.10],[1943,4.40],[1945,4.55],[1947,4.40],[1949,4.60],[1951,4.25],[1953,3.75],[1955,3.65],[1957,4.30],[1959,3.80],[1961,4.25],[1963,3.55],[1965,4.10],[1967,3.70],[1969,4.20],[1971,3.90],[1973,3.40],[1975,3.20],[1977,3.10],[1979,3.90],[1981,3.05],[1983,3.30],[1985,3.00],[1987,3.40],[1989,3.20],[1991,3.80],[1993,3.70],[1995,3.55],[1997,3.65],[1999,3.00],[2001,3.50],[2003,3.70],[2005,2.90],[2007,2.80],[2009,3.60],[2011,2.75],[2013,3.00],[2015,2.80],[2017,3.50],[2019,2.90],[2021,3.40],[2023,2.75],[2025,3.10],[2027,2.55],[2029,3.30],[2031,2.50],[2033,2.40],[2035,2.90],[2037,2.33],[2039,2.45],[2041,2.90],[2043,2.35],[2045,2.55],[2047,2.30],[2049,2.45],[2051,2.25],[2053,2.55],[2055,2.30],[2057,2.45],[2059,2.95],[2061,2.20],[2063,2.90],[2065,2.30],[2067,2.10],[2069,2.70],[2071,2.05],[2073,2.60],[2075,2.00],[2077,2.20],[2079,2.00],[2081,2.55],[2083,1.95],[2085,2.30],[2087,1.90],[2089,2.40],[2091,1.85],[2093,2.10],[2095,1.80],[2097,1.75],[2099,2.35],[2101,1.72],[2103,1.90],[2105,1.68],[2107,2.00],[2109,1.65],[2111,1.85],[2113,1.62],[2115,1.60],[2117,2.05],[2119,1.58],[2121,1.75],[2123,1.55],[2125,1.80],[2127,1.52],[2129,1.65],[2131,1.50],[2133,1.75],[2135,1.48],[2137,1.55],[2139,1.45],[2141,1.60],[2143,1.43],[2145,1.50],[2147,1.45],[2150,1.43],[2153,1.40],[2156,1.50],[2159,1.42],[2162,1.55],[2165,1.45],[2168,1.58],[2171,1.48],[2174,1.60],[2177,1.52],[2180,1.62],[2183,1.55],[2186,1.60],[2190,1.58],[2195,1.62],[2200,1.60],[2205,1.58],[2210,1.55],[2215,1.50],[2218,1.42],[2221,1.24],[2224,1.33],[2227,1.42],[2230,1.48],[2240,1.50],[2250,1.47],[2260,1.42],[2270,1.37],[2280,1.32],[2290,1.27],[2300,1.22],[2310,1.17],[2320,1.12],[2330,1.07],[2340,1.03],[2350,1.00],[2358,0.97],[2360,1.08],[2362,0.96],[2370,0.94],[2380,0.91],[2388,0.90],[2392,0.82],[2396,0.72],[2400,0.67],[2410,0.62],[2420,0.59],[2435,0.55],[2450,0.51],[2475,0.45],[2500,0.39],[2525,0.34],[2550,0.30],[2575,0.27],[2600,0.25],[2625,0.23],[2640,0.23],[2650,0.21],[2675,0.19],[2700,0.17],[2720,0.16],[2722,0.19],[2725,0.16],[2750,0.15],[2800,0.12],[2850,0.10],[2900,0.09],[2950,0.08],[3000,0.08],[3020,0.08]];

// shaded (yellow) time bands, hours
const shadeBands = [[0, 5.83], [22.64, 24]];

// tick values
const ticksHours = [0, 5, 10, 15, 20];
const ticksY1 = [200, 220, 240, 260, 280];
const ticksY2 = [190, 200, 210, 220, 230, 240, 250, 260, 270, 280];
const ticksY3 = [282, 283, 284, 285, 286, 287];
const ticksWn4 = [600, 800, 1000, 1200, 1400, 1600, 1800];
const ticksY4 = [20, 40, 60, 80, 100, 120];
const ticksWn5 = [1800, 2000, 2200, 2400, 2600, 2800, 3000];
const ticksY5 = [0, 1, 2, 3, 4, 5, 6, 7];

// names
const N85 = '85ᵒ WRT Nadir', N95 = '95ᵒ WRT Nadir', N125 = '125ᵒ WRT Nadir', N180 = '180ᵒ WRT Nadir';
const NW1 = 'AERI 985-900 cm⁻¹ (Window)', NW2 = 'AERI 2510-2515 cm⁻¹ (Window)';
const NC1 = 'AERI 675-680 cm⁻¹ (Surf Air)', NC2 = 'AERI 700-705 cm⁻¹', NC3 = 'AERI 2295-2300 cm⁻¹ (Surf Air)', NC4 = 'AERI 2282-2287 cm⁻¹';
const NM = 'Mean Radiance 0 to 24h UTC 20240525', NCL = '... cloudy';

// ---------------- build ----------------
function reg(t0, dt, vals) { return vals.map((v, i) => [Math.round((t0 + i * dt) * 1000) / 1000, v]); }
const FONT = 'DejaVu Sans', AX = '#0072BD', DK = '#262626';
const TOPS = [295.5, 1421, 2545.5, 3670.5, 4796];
const grid = TOPS.map(t => ({ left: 375, top: t, width: 2628, height: 907 }));
const plain = v => String(v);

function xax(i, min, max, ticks, name, gap) {
  return { type: 'value', gridIndex: i, min, max, name, nameLocation: 'middle', nameGap: gap,
    nameTextStyle: { fontFamily: FONT, fontSize: 46, color: DK },
    axisLine: { show: true, onZero: false, lineStyle: { color: DK, width: 2 } },
    axisTick: { show: true, inside: true, length: 28, lineStyle: { color: DK, width: 2 }, customValues: ticks },
    axisLabel: { fontFamily: FONT, fontSize: 38, color: DK, margin: 26, customValues: ticks, formatter: plain },
    splitLine: { show: false } };
}
function yax(i, min, max, ticks, name, gap) {
  return { type: 'value', gridIndex: i, min, max, name, nameLocation: 'middle', nameGap: gap, nameRotate: 90,
    nameTextStyle: { fontFamily: FONT, fontSize: 46, color: AX },
    axisLine: { show: true, onZero: false, lineStyle: { color: AX, width: 2 } },
    axisTick: { show: true, inside: true, length: 26, lineStyle: { color: AX, width: 2 }, customValues: ticks },
    axisLabel: { fontFamily: FONT, fontSize: 38, color: AX, margin: 30, customValues: ticks, formatter: plain },
    splitLine: { show: false } };
}
function yaxR(i, min, max) {
  return { type: 'value', gridIndex: i, min, max, position: 'right',
    axisLine: { show: true, onZero: false, lineStyle: { color: AX, width: 2 } },
    axisTick: { show: false }, axisLabel: { show: false }, splitLine: { show: false } };
}
const yr = [[182.7, 291], [183.1, 287.5], [281.69, 287.4], [1.1, 136.2], [-0.33, 8.0]];
const xAxis = [
  xax(0, 0, 24, ticksHours, 'UTC hours on 20240525', 90),
  xax(1, 0, 24, ticksHours, 'UTC hours on 20240525', 90),
  xax(2, 0, 24, ticksHours, 'UTC hours on 20240525', 90),
  xax(3, 520, 1800, ticksWn4, 'Wavenumber, cm⁻¹', 92),
  xax(4, 1800, 3020, ticksWn5, 'Wavenumber, cm⁻¹', 92)
];
const yAxis = [
  yax(0, yr[0][0], yr[0][1], ticksY1, 'AERI 985-900 cm⁻¹ (Window) BT', 128),
  yax(1, yr[1][0], yr[1][1], ticksY2, 'Zenith BTs, K', 128),
  yax(2, yr[2][0], yr[2][1], ticksY3, 'Zenith BTs, K', 128),
  yax(3, yr[3][0], yr[3][1], ticksY4, 'Mean Radiance, mW/(m² sr cm⁻¹)', 128),
  yax(4, yr[4][0], yr[4][1], ticksY5, 'Mean Radiance, mW/(m² sr cm⁻¹)', 82),
  yaxR(0, yr[0][0], yr[0][1]), yaxR(1, yr[1][0], yr[1][1]), yaxR(2, yr[2][0], yr[2][1]),
  yaxR(3, yr[3][0], yr[3][1]), yaxR(4, yr[4][0], yr[4][1])
];
function line(i, name, data, color, width) {
  return { type: 'line', name, xAxisIndex: i, yAxisIndex: i, data, symbol: 'none', showSymbol: false,
    lineStyle: { color, width, join: 'round' }, itemStyle: { color }, z: 2, connectNulls: false, animation: false };
}
function shade(i) {
  return { type: 'custom', xAxisIndex: i, yAxisIndex: i, data: shadeBands, z: 6, silent: true, animation: false,
    encode: { x: [0, 1] },
    renderItem: (p, api) => {
      const cs = p.coordSys;
      const x0 = api.coord([api.value(0), yr[i][0]])[0];
      const x1 = api.coord([api.value(1), yr[i][0]])[0];
      return { type: 'rect', shape: { x: x0, y: cs.y, width: x1 - x0, height: cs.height },
        style: { fill: 'rgba(255,255,0,0.15)' } };
    } };
}
const series = [
  line(0, N85, bt85, '#A52A2A', 6),
  line(0, N95, bt95, '#FFA500', 6),
  line(0, N125, bt125, '#008000', 6),
  line(0, N180, btWin, '#0000FF', 6),
  shade(0),
  line(1, NW1, btWin, '#0000FF', 6),
  line(1, NW2, reg(lb2Start, lb2Step, lb2Vals).concat(lb2Late), '#ADD8E6', 3),
  shade(1),
  line(2, NC1, reg(p3Start, p3Step, o3).concat(o3Late), '#FFA500', 7),
  line(2, NC2, reg(p3Start, p3Step, u3).concat(u3Late), '#0000FF', 7),
  line(2, NC3, reg(p3Start, p3Step, b3).concat(b3Late), '#A52A2A', 4),
  line(2, NC4, reg(p3Start, p3Step, l3).concat(l3Late), '#ADD8E6', 4),
  shade(2),
  line(3, NM, rad4All, '#000000', 3.5),
  line(3, NCL, rad4Cld, '#FF0000', 3.5),
  line(4, NM, rad5All, '#000000', 3.5),
  line(4, NCL, rad5Cld, '#FF0000', 3.5)
];
function leg(left, top, gap, w, items) {
  return { orient: 'vertical', left, top, padding: 0, itemWidth: w, itemHeight: 20, itemGap: gap,
    selectedMode: false, z: 10, itemStyle: { opacity: 0 },
    data: items.map(([name, width]) => ({ name, lineStyle: { width } })),
    textStyle: { fontFamily: FONT, fontSize: 39, color: '#000', lineHeight: 47, padding: [0, 0, 0, 20] } };
}
const legend = [
  leg(525, 398.5, 21, 233, [[N85, 6], [N95, 6], [N125, 6], [N180, 6]]),
  leg(595, 1483.5, 18, 235, [[NW1, 7], [NW2, 3]]),
  leg(1910, 2648.5, 20.5, 233, [[NC1, 6], [NC2, 6], [NC3, 3], [NC4, 3]]),
  leg(1831, 3713.5, 9, 234, [[NM, 3.5], [NCL, 3.5]]),
  leg(1831, 4838.5, 10, 234, [[NM, 3.5], [NCL, 3.5]])
];
const chart = echarts.init(document.getElementById('c'), null, { renderer: 'canvas', width: 3825, height: 6000 });
chart.setOption({ backgroundColor: '#ffffff', animation: false, textStyle: { fontFamily: FONT },
  grid, xAxis, yAxis, series, legend });
</script></body></html>
